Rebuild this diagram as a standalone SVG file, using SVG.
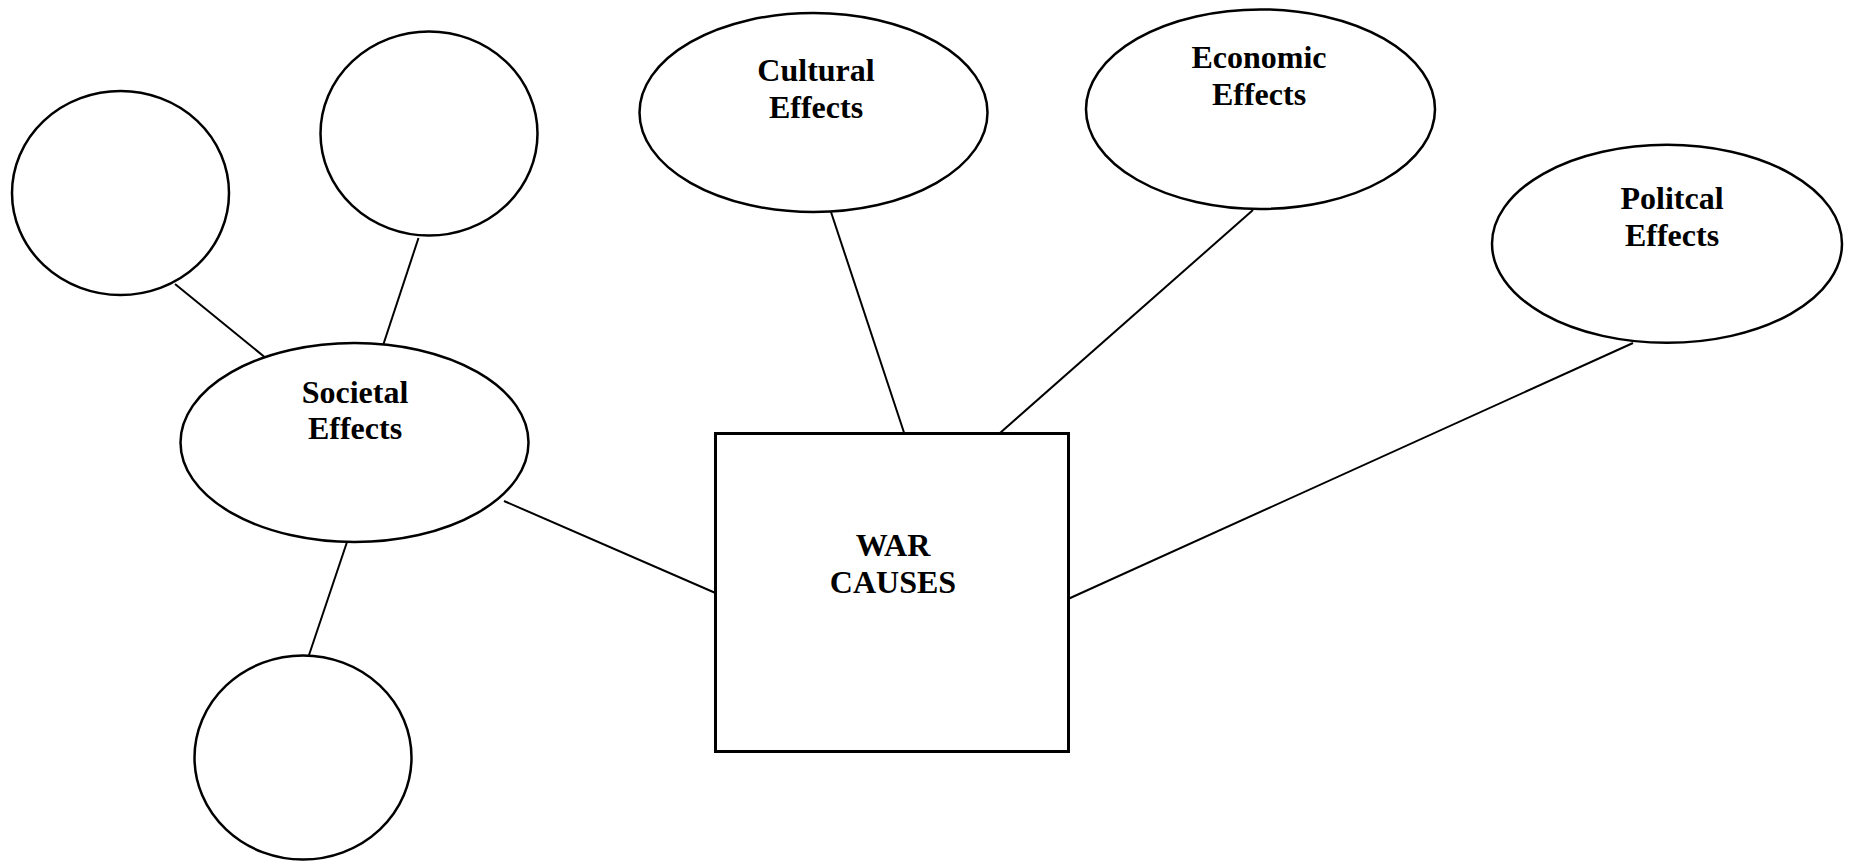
<svg xmlns="http://www.w3.org/2000/svg" width="1851" height="861" viewBox="0 0 1851 861">
  <style>
    .bubble { fill: #ffffff; stroke: #000000; stroke-width: 2.5; }
    .box { fill: #ffffff; stroke: #000000; stroke-width: 3; }
    .link { stroke: #000000; stroke-width: 2; fill: none; }
    .label { font-family: "Liberation Serif", "Times New Roman", serif; font-weight: bold; font-size: 32px; fill: #000000; text-anchor: middle; }
  </style>
  <rect width="1851" height="861" fill="#ffffff"/>

  <!-- connectors -->
  <g id="connectors">
    <line class="link" x1="175" y1="284" x2="267" y2="359"/>
    <line class="link" x1="418.5" y1="238" x2="383.5" y2="344"/>
    <line class="link" x1="347" y1="542" x2="308" y2="658"/>
    <line class="link" x1="504" y1="501" x2="715.5" y2="593"/>
    <line class="link" x1="831" y1="212" x2="904.5" y2="434"/>
    <line class="link" x1="1253" y1="210" x2="1000" y2="433"/>
    <line class="link" x1="1633" y1="343" x2="1068" y2="599"/>
  </g>

  <!-- empty bubbles around Societal Effects -->
  <g id="blank-left">
    <ellipse class="bubble" cx="120.5" cy="193" rx="108.5" ry="102"/>
  </g>
  <g id="blank-top">
    <ellipse class="bubble" cx="429" cy="133.5" rx="108.5" ry="102"/>
  </g>
  <g id="blank-bottom">
    <ellipse class="bubble" cx="303" cy="757.5" rx="108.5" ry="102"/>
  </g>

  <g id="societal">
    <ellipse class="bubble" cx="354.5" cy="442.5" rx="174" ry="99.5"/>
    <text class="label" x="355" y="403">Societal</text>
    <text class="label" x="355" y="439">Effects</text>
  </g>

  <g id="cultural">
    <ellipse class="bubble" cx="813.5" cy="112.5" rx="174" ry="99.5"/>
    <text class="label" x="816" y="81">Cultural</text>
    <text class="label" x="816" y="118">Effects</text>
  </g>

  <g id="economic">
    <ellipse class="bubble" cx="1260.5" cy="109.2" rx="174.5" ry="99.8"/>
    <text class="label" x="1259" y="68">Economic</text>
    <text class="label" x="1259" y="105">Effects</text>
  </g>

  <g id="political">
    <ellipse class="bubble" cx="1667" cy="243.8" rx="175" ry="99"/>
    <text class="label" x="1672" y="209">Politcal</text>
    <text class="label" x="1672" y="246">Effects</text>
  </g>

  <g id="war-causes">
    <rect class="box" x="715.5" y="433.5" width="353" height="318"/>
    <text class="label" x="893" y="556">WAR</text>
    <text class="label" x="893" y="593">CAUSES</text>
  </g>
</svg>
